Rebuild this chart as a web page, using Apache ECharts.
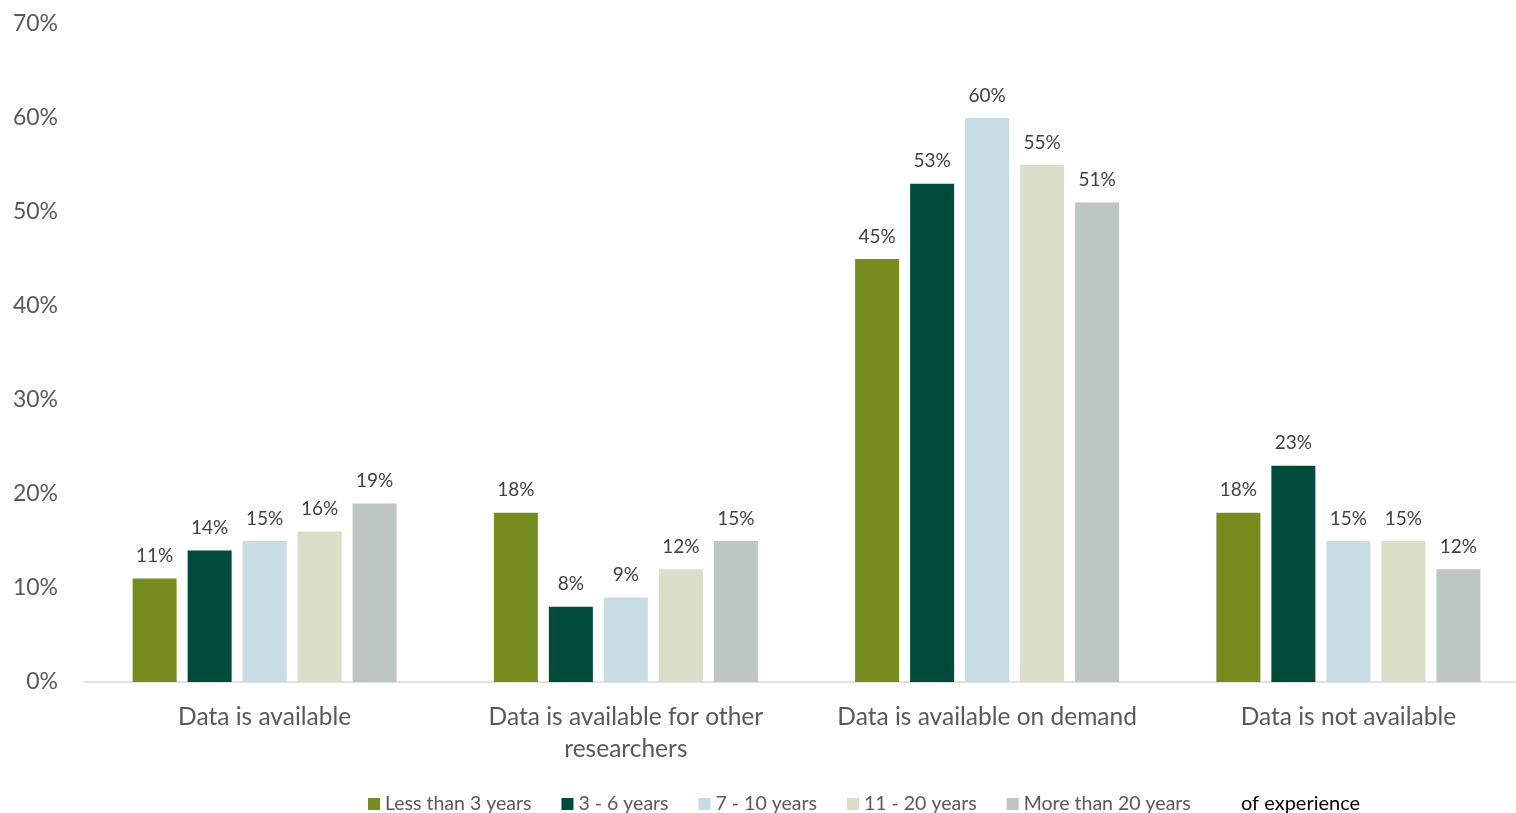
<!DOCTYPE html>
<html>
<head>
<meta charset="utf-8">
<script src="https://cdn.jsdelivr.net/npm/echarts@6/dist/echarts.min.js"></script>
<style>
  html, body { margin: 0; padding: 0; background: #fff; overflow: hidden; }
  /* plot runs slightly past the right edge of the window */
  #chart { width: 1529px; height: 813px; }
</style>
</head>
<body>
<div id="chart"></div>
<script>
// Data availability by years of experience (percent of respondents)
const categories = [
  'Data is available',
  'Data is available for other\nresearchers',
  'Data is available on demand',
  'Data is not available'
];
const seriesNames = ['Less than 3 years', '3 - 6 years', '7 - 10 years', '11 - 20 years', 'More than 20 years'];
const lessThan3 = [11, 18, 45, 18];
const years3to6 = [14, 8, 53, 23];
const years7to10 = [15, 9, 60, 15];
const years11to20 = [16, 12, 55, 15];
const moreThan20 = [19, 15, 51, 12];
const yTicks = [0, 10, 20, 30, 40, 50, 60, 70];

const seriesValues = [lessThan3, years3to6, years7to10, years11to20, moreThan20];
const colors = ['#778C1F', '#004B3A', '#C7DCE4', '#DADFCA', '#BDC6C1'];
const font = 'Lato, "Open Sans", sans-serif';

const chart = echarts.init(document.getElementById('chart'));
chart.setOption({
  animation: false,
  color: colors,
  textStyle: { fontFamily: font },
  grid: { left: 84, right: 0, top: 24, bottom: 131, containLabel: false },
  legend: {
    left: 368,
    top: 794,
    itemWidth: 12,
    itemHeight: 12,
    itemGap: 30,
    icon: 'rect',
    padding: 0,
    textStyle: { fontFamily: font, fontSize: 19.5, color: '#595959' },
    data: seriesNames
  },
  graphic: [{
    type: 'text',
    left: 1241,
    top: 794,
    style: { text: 'of experience', font: '20px ' + font, fill: '#000' }
  }],
  xAxis: {
    type: 'category',
    data: categories,
    axisLine: { lineStyle: { color: '#D9D9D9', width: 1.5 } },
    axisTick: { show: false },
    axisLabel: { interval: 0, fontSize: 24.5, color: '#595959', margin: 19, lineHeight: 32, fontFamily: font }
  },
  yAxis: {
    type: 'value',
    min: yTicks[0],
    max: yTicks[yTicks.length - 1],
    interval: 10,
    splitLine: { show: false },
    axisLine: { show: false },
    axisTick: { show: false },
    axisLabel: { fontSize: 23, color: '#595959', margin: 26, padding: [5, 0, 0, 0], formatter: v => v + '%', fontFamily: font }
  },
  series: seriesValues.map((vals, i) => ({
    name: seriesNames[i],
    type: 'bar',
    data: vals,
    barWidth: 44,
    barGap: '25%',
    label: {
      show: true,
      position: 'top',
      distance: 13,
      fontSize: 19,
      color: '#404040',
      fontFamily: font,
      formatter: p => p.value + '%'
    }
  }))
});
</script>
</body>
</html>
